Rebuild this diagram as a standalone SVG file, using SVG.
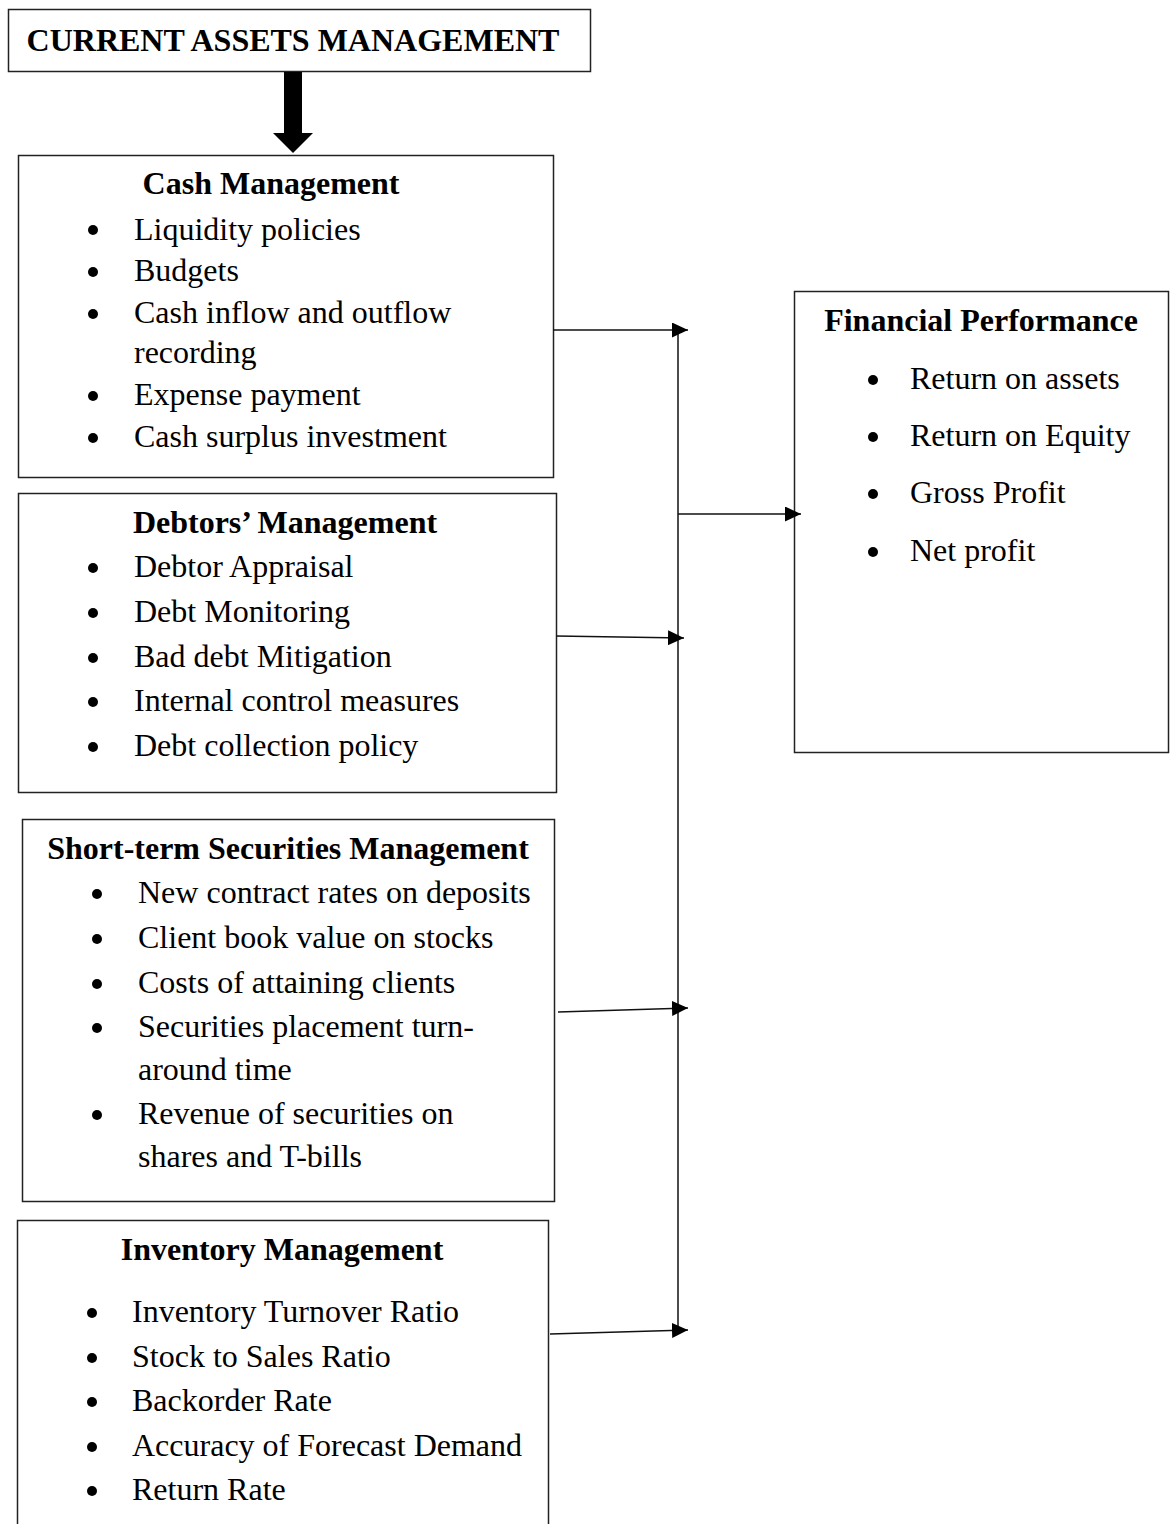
<svg xmlns="http://www.w3.org/2000/svg" width="1174" height="1524" viewBox="0 0 1174 1524">
<defs>
<style>
.box{fill:#fff;stroke:#222;stroke-width:1.5}
.t{font-family:"Liberation Serif","Times New Roman",serif;font-size:32px;fill:#000}
.b{font-weight:bold;text-anchor:middle}
.bul{fill:#000}
.con{stroke:#111;stroke-width:1.5;fill:none}
</style>
<marker id="ah" viewBox="0 0 16 15" refX="16" refY="7.5" markerWidth="16" markerHeight="15" markerUnits="userSpaceOnUse" orient="auto">
<path d="M0,0 L16,7.5 L0,15 z" fill="#000"/>
</marker>
</defs>
<rect width="1174" height="1524" fill="#fff"/>

<g id="current-assets">
<rect class="box" x="8.5" y="9.5" width="582" height="62"/>
<text class="t b" x="293" y="51">CURRENT ASSETS MANAGEMENT</text>
</g>

<g id="cash">
<rect class="box" x="18.5" y="155.5" width="535" height="322"/>
<text class="t b" x="271" y="194">Cash Management</text>
<circle class="bul" cx="93" cy="230" r="5"/><text class="t" x="134" y="240">Liquidity policies</text>
<circle class="bul" cx="93" cy="272" r="5"/><text class="t" x="134" y="281">Budgets</text>
<circle class="bul" cx="93" cy="314" r="5"/><text class="t" x="134" y="323">Cash inflow and outflow</text>
<text class="t" x="134" y="363">recording</text>
<circle class="bul" cx="93" cy="396" r="5"/><text class="t" x="134" y="405">Expense payment</text>
<circle class="bul" cx="93" cy="438" r="5"/><text class="t" x="134" y="447">Cash surplus investment</text>
</g>

<g id="debtors">
<rect class="box" x="18.5" y="493.5" width="538" height="299"/>
<text class="t b" x="285" y="533">Debtors’ Management</text>
<circle class="bul" cx="93" cy="568" r="5"/><text class="t" x="134" y="577">Debtor Appraisal</text>
<circle class="bul" cx="93" cy="613" r="5"/><text class="t" x="134" y="622">Debt Monitoring</text>
<circle class="bul" cx="93" cy="658" r="5"/><text class="t" x="134" y="667">Bad debt Mitigation</text>
<circle class="bul" cx="93" cy="702" r="5"/><text class="t" x="134" y="711">Internal control measures</text>
<circle class="bul" cx="93" cy="747" r="5"/><text class="t" x="134" y="756">Debt collection policy</text>
</g>

<g id="securities">
<rect class="box" x="22.5" y="819.5" width="532" height="382"/>
<text class="t b" x="288" y="859">Short-term Securities Management</text>
<circle class="bul" cx="97" cy="894" r="5"/><text class="t" x="138" y="903">New contract rates on deposits</text>
<circle class="bul" cx="97" cy="939" r="5"/><text class="t" x="138" y="948">Client book value on stocks</text>
<circle class="bul" cx="97" cy="984" r="5"/><text class="t" x="138" y="993">Costs of attaining clients</text>
<circle class="bul" cx="97" cy="1028" r="5"/><text class="t" x="138" y="1037">Securities placement turn-</text>
<text class="t" x="138" y="1080">around time</text>
<circle class="bul" cx="97" cy="1115" r="5"/><text class="t" x="138" y="1124">Revenue of securities on</text>
<text class="t" x="138" y="1167">shares and T-bills</text>
</g>

<g id="inventory">
<rect class="box" x="17.5" y="1220.5" width="531" height="320"/>
<text class="t b" x="282" y="1260">Inventory Management</text>
<circle class="bul" cx="92" cy="1313" r="5"/><text class="t" x="132" y="1322">Inventory Turnover Ratio</text>
<circle class="bul" cx="92" cy="1358" r="5"/><text class="t" x="132" y="1367">Stock to Sales Ratio</text>
<circle class="bul" cx="92" cy="1402" r="5"/><text class="t" x="132" y="1411">Backorder Rate</text>
<circle class="bul" cx="92" cy="1447" r="5"/><text class="t" x="132" y="1456">Accuracy of Forecast Demand</text>
<circle class="bul" cx="92" cy="1491" r="5"/><text class="t" x="132" y="1500">Return Rate</text>
</g>

<g id="financial-performance">
<rect class="box" x="794.5" y="291.5" width="374" height="461"/>
<text class="t b" x="981" y="331">Financial Performance</text>
<circle class="bul" cx="873" cy="380" r="5"/><text class="t" x="910" y="389">Return on assets</text>
<circle class="bul" cx="873" cy="437" r="5"/><text class="t" x="910" y="446">Return on Equity</text>
<circle class="bul" cx="873" cy="494" r="5"/><text class="t" x="910" y="503">Gross Profit</text>
<circle class="bul" cx="873" cy="552" r="5"/><text class="t" x="910" y="561">Net profit</text>
</g>

<g id="connectors">
<polygon points="284,72 302,72 302,133 313,133 293,153 273,133 284,133" fill="#000"/>
<line class="con" x1="678" y1="330" x2="678" y2="1331"/>
<line class="con" x1="553" y1="330" x2="688" y2="330" marker-end="url(#ah)"/>
<line class="con" x1="678" y1="514" x2="801" y2="514" marker-end="url(#ah)"/>
<line class="con" x1="556" y1="636" x2="684" y2="638" marker-end="url(#ah)"/>
<line class="con" x1="558" y1="1012" x2="688" y2="1008" marker-end="url(#ah)"/>
<line class="con" x1="550" y1="1334" x2="688" y2="1330" marker-end="url(#ah)"/>
</g>
</svg>
